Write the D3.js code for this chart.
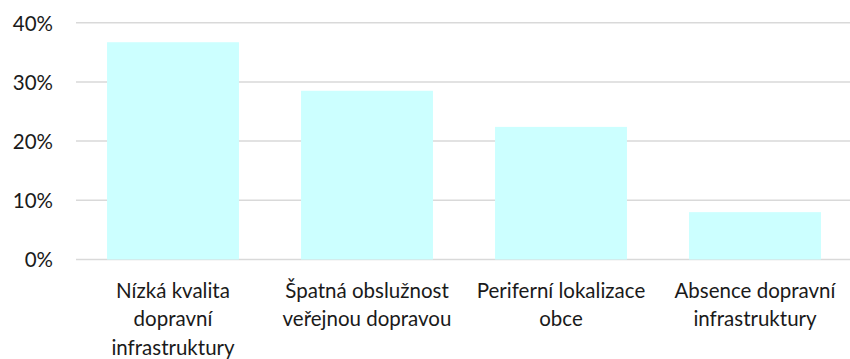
<!DOCTYPE html>
<html>
<head>
<meta charset="utf-8">
<script src="https://cdn.jsdelivr.net/npm/d3@7"></script>
<style>
  html, body { margin: 0; padding: 0; background: #fff; }
  svg { display: block; }
  text { font-family: Lato, "Open Sans", sans-serif; fill: #1a1a1a; }
</style>
</head>
<body>
<svg id="chart" width="850" height="359"></svg>
<script>
// Categories (each row is one line of the wrapped label)
const categories = [
  ["Nízká kvalita", "dopravní", "infrastruktury"],
  ["Špatná obslužnost", "veřejnou dopravou"],
  ["Periferní lokalizace", "obce"],
  ["Absence dopravní", "infrastruktury"]
];
// Share of respondents (%)
const values = [36.7, 28.5, 22.4, 8.0];
const yTicks = [0, 10, 20, 30, 40];

const svg = d3.select("#chart");
const margin = { left: 76, right: -2, top: 22.7, bottom: 99.5 };
const W = 850, H = 359;
const fontSize = 20.5;

const x = d3.scaleBand()
  .domain(d3.range(categories.length))
  .range([margin.left, W - margin.right])
  .paddingInner(0.32)
  .paddingOuter(0.16);

const y = d3.scaleLinear()
  .domain([0, 40])
  .range([H - margin.bottom, margin.top]);

// Horizontal gridlines
svg.append("g")
  .selectAll("line")
  .data(yTicks)
  .join("line")
  .attr("x1", margin.left)
  .attr("x2", W)
  .attr("y1", d => y(d))
  .attr("y2", d => y(d))
  .attr("stroke", "#d9d9d9")
  .attr("stroke-width", 1.5);

// Y axis labels
const yAxis = d3.axisLeft(y).tickValues(yTicks).tickFormat(d => d + "%").tickSize(0).tickPadding(0);
const gy = svg.append("g")
  .attr("transform", `translate(53,0)`)
  .call(yAxis);
gy.select(".domain").remove();
gy.selectAll("text")
  .attr("font-size", fontSize)
  .attr("font-family", "Lato, 'Open Sans', sans-serif")
  .attr("fill", "#1a1a1a")
  .attr("dy", "0.36em");

// Bars
svg.append("g")
  .selectAll("rect")
  .data(values)
  .join("rect")
  .attr("x", (d, i) => x(i))
  .attr("width", x.bandwidth())
  .attr("y", d => y(d))
  .attr("height", d => y(0) - y(d))
  .attr("fill", "#ccffff");

// Category labels
const labels = svg.append("g")
  .selectAll("text")
  .data(categories)
  .join("text")
  .attr("text-anchor", "middle")
  .attr("font-size", fontSize)
  .attr("x", (d, i) => x(i) + x.bandwidth() / 2)
  .attr("y", 297.5);
labels.selectAll("tspan")
  .data(d => d)
  .join("tspan")
  .attr("x", function () { return d3.select(this.parentNode).attr("x"); })
  .attr("dy", (d, i) => i === 0 ? 0 : 28.7)
  .text(d => d);
</script>
</body>
</html>
